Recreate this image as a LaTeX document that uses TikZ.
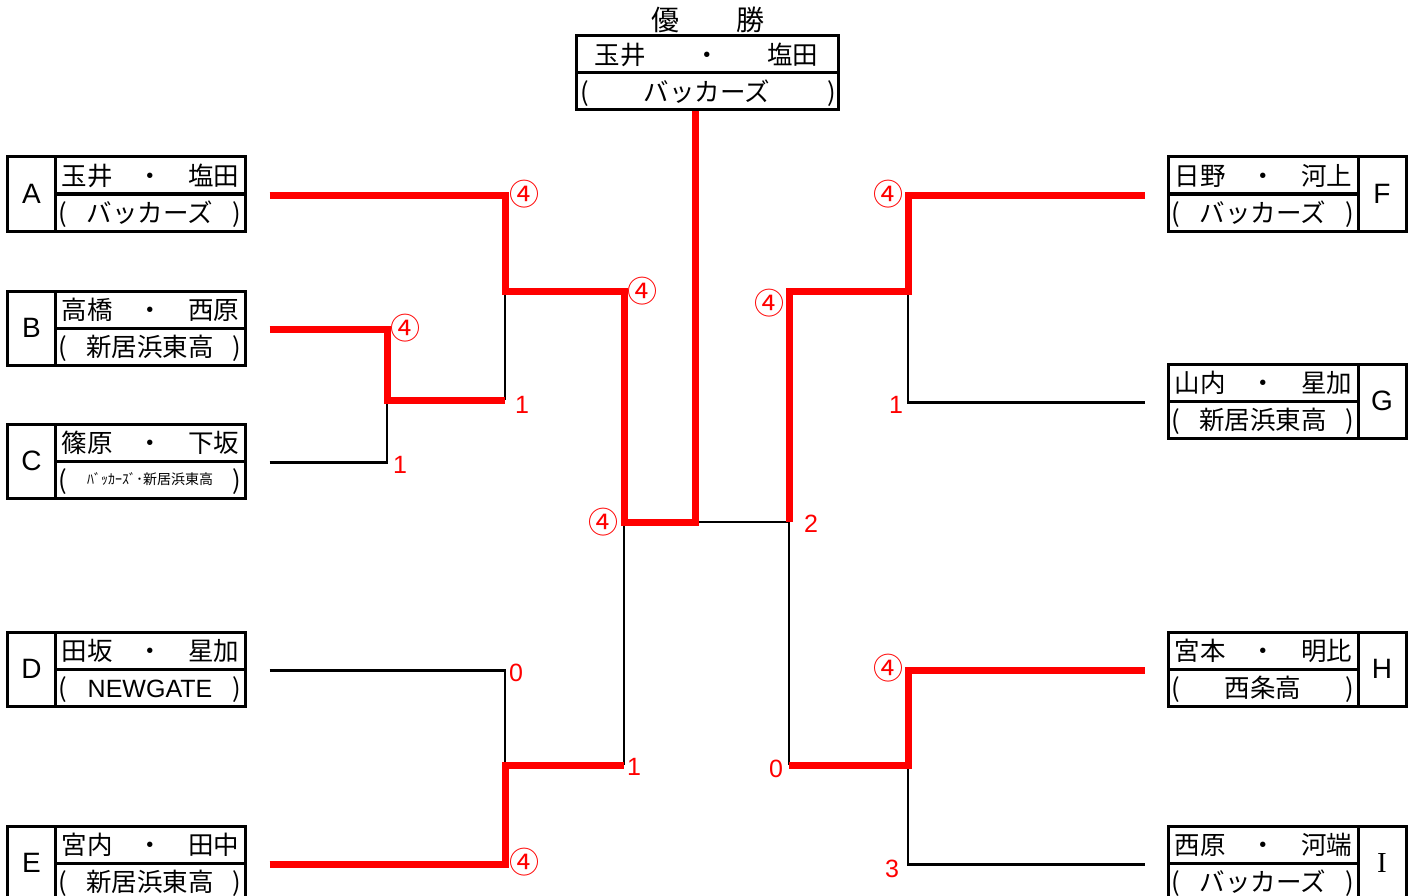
\documentclass[tikz,border=0pt]{standalone}
\usepackage{fontspec}
\setmainfont{Liberation Sans}
\newfontfamily\jp{Noto Sans CJK JP}
\newfontfamily\serifI{Liberation Serif}
\usetikzlibrary{positioning}
\definecolor{winred}{HTML}{FF0000}
\tikzset{
  frame/.style={draw=black,line width=3pt},
  namecell/.style={frame,minimum width=190,minimum height=37,inner sep=0pt},
  lettercell/.style={frame,minimum width=48,minimum height=74,inner sep=0pt,font=\fontsize{28}{28}\selectfont},
  jtxt/.style={inner sep=0pt,text height=21.5pt,text depth=2pt,font=\jp\fontsize{25.5}{25.5}\selectfont},
  smalljtxt/.style={inner sep=0pt,font=\jp\fontsize{14}{14}\selectfont},
  lose/.style={draw=black,line width=2.7pt},
  win/.style={draw=winred,line width=7pt},
  score/.style={inner sep=0pt,text=winred,font=\fontsize{25}{25}\selectfont},
  circ/.style={inner sep=0pt,text=winred,font=\jp\fontsize{30}{30}\selectfont},
}
% one row with the two names
\newcommand{\namerow}[4]{%
  \node[namecell] (#1) at (#2) {};
  \node[jtxt,anchor=west] (#1-l) at ([xshift=8pt]#1.west) {#3};
  \node[jtxt] (#1-m) at (#1.center) {・};
  \node[jtxt,anchor=east] (#1-r) at ([xshift=-7pt]#1.east) {#4};
}
% one row with the club in brackets
\newcommand{\clubrow}[3]{%
  \node[namecell] (#1) at (#2) {};
  \node[jtxt,anchor=west] (#1-l) at ([xshift=5pt]#1.west) {(};
  \node[jtxt] (#1-m) at (#1.center) {#3};
  \node[jtxt,anchor=east] (#1-r) at ([xshift=-5pt]#1.east) {)};
}
% team on the left: id, top y, letter, name, name, club
\newcommand{\lteam}[6]{%
  \node[lettercell] (#1) at (31.5,#2+37) {#3};
  \namerow{#1n}{150,#2+18.5}{#4}{#5}
  \clubrow{#1c}{150,#2+55.5}{#6}
}
% team on the right
\newcommand{\rteam}[6]{%
  \node[lettercell] (#1) at (1382,#2+37) {#3};
  \namerow{#1n}{1263,#2+18.5}{#4}{#5}
  \clubrow{#1c}{1263,#2+55.5}{#6}
}

\begin{document}
\begin{tikzpicture}[x=1pt,y=-1pt]
  \useasboundingbox (0,0) rectangle (1415,896);

  % champion
  \node[jtxt,text height=24pt,text depth=2pt,font=\jp\fontsize{28}{28}\selectfont] (yu) at (665,20) {優};
  \node[jtxt,text height=24pt,text depth=2pt,font=\jp\fontsize{28}{28}\selectfont] (sho) at (750,20) {勝};
  \node[namecell,minimum width=262] (champn) at (707,54.5) {};
  \node[jtxt,anchor=west] (champn-l) at ([xshift=20pt]champn.west) {玉井};
  \node[jtxt] (champn-m) at (champn.center) {・};
  \node[jtxt,anchor=east] (champn-r) at ([xshift=-21pt]champn.east) {塩田};
  \node[namecell,minimum width=262] (champc) at (707,91.5) {};
  \node[jtxt,anchor=west] (champc-l) at ([xshift=6pt]champc.west) {(};
  \node[jtxt] (champc-m) at (champc.center) {バッカーズ};
  \node[jtxt,anchor=east] (champc-r) at ([xshift=-3pt]champc.east) {)};

  % teams
  \lteam{A}{157}{A}{玉井}{塩田}{バッカーズ}
  \lteam{B}{291}{B}{高橋}{西原}{新居浜東高}
  \lteam{C}{424}{C}{篠原}{下坂}{}
  \node[smalljtxt] (Cc-s) at (Cc.center) {ﾊﾞｯｶｰｽﾞ･新居浜東高};
  \lteam{D}{632}{D}{田坂}{星加}{\rmfamily\fontsize{25}{25}\selectfont NEWGATE}
  \lteam{E}{826}{E}{宮内}{田中}{新居浜東高}
  \rteam{F}{157}{F}{日野}{河上}{バッカーズ}
  \rteam{G}{364}{G}{山内}{星加}{新居浜東高}
  \rteam{H}{632}{H}{宮本}{明比}{西条高}
  \rteam{I}{826}{\serifI\fontsize{29}{29}\selectfont I}{西原}{河端}{バッカーズ}

  % junctions
  \coordinate (j1) at (387,400);
  \coordinate (j2) at (505,291);
  \coordinate (j3) at (505,765);
  \coordinate (j4) at (624,522);
  \coordinate (jc) at (695,522);
  \coordinate (k1) at (908,291);
  \coordinate (k2) at (908,765);
  \coordinate (k3) at (789,522);

  % lost matches
  \draw[lose] ([xshift=23pt]Cn.south east) -| (j1);
  \draw[lose] (j2) -- (j2 |- j1);
  \draw[lose] ([xshift=23pt]Dn.south east) -| (j3);
  \draw[lose] (j4) -- (j4 |- j3);
  \draw[lose] (j4) -- (k3);
  \draw[lose] ([xshift=-22pt]Gn.south west) -| (k1);
  \draw[lose] ([xshift=-22pt]In.south west) -| (k2);
  \draw[lose] (k3) -- (k3 |- k2);

  % winning path
  \draw[win] ([xshift=23pt]An.south east) -| (j2) -| (j4) -- (jc) -- (jc |- champc.south);
  \draw[win] ([xshift=23pt]Bn.south east) -| (j1) -- (j1 -| j2);
  \draw[win] ([xshift=23pt]En.south east) -| (j3) -- (j3 -| j4);
  \draw[win] ([xshift=-22pt]Fn.south west) -| (k1) -| (k3);
  \draw[win] ([xshift=-22pt]Hn.south west) -| (k2) -- (k2 -| k3);

  % scores
  \node[circ] (sA) at (524,194) {④};
  \node[circ] (sB) at (405,328) {④};
  \node[score] (sC) at (400,465) {1};
  \node[score] (sBC) at (522,405) {1};
  \node[circ] (sAB) at (642,291) {④};
  \node[circ] (sL) at (603,522) {④};
  \node[score] (sD) at (516,673) {0};
  \node[circ] (sE) at (524,862) {④};
  \node[score] (sDE) at (634,767) {1};
  \node[circ] (sF) at (888,194) {④};
  \node[score] (sG) at (896,405) {1};
  \node[circ] (sFG) at (769,303) {④};
  \node[score] (sR) at (811,524) {2};
  \node[circ] (sH) at (888,668) {④};
  \node[score] (sI) at (892,869) {3};
  \node[score] (sHI) at (776,769) {0};
\end{tikzpicture}
\end{document}
